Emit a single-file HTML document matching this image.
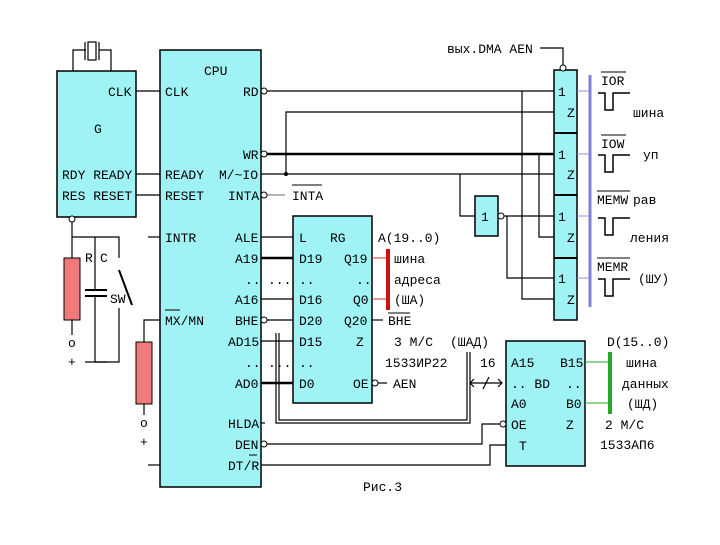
<!DOCTYPE html>
<html><head><meta charset="utf-8"><style>
html,body{margin:0;padding:0;background:#fff;}
svg text{font-family:"Liberation Mono","DejaVu Sans Mono",monospace;font-size:13px;fill:#000;}
</style></head><body>
<svg width="720" height="540" viewBox="0 0 720 540" xmlns="http://www.w3.org/2000/svg">
<g stroke="#000" stroke-width="1.2" fill="none">
<!-- crystal -->
<polyline points="73,71 73,50 86,50"/><polyline points="111,71 111,50 99,50"/>
<rect x="88" y="42" width="8" height="18" fill="#fff"/><line x1="85" y1="42" x2="85" y2="60"/><line x1="99" y1="42" x2="99" y2="60"/>
</g>
<!-- blocks -->
<g fill="#9ff3f5" stroke="#000" stroke-width="1.5">
<rect x="57" y="71" width="79" height="146"/>
<rect x="160" y="50" width="101" height="437"/>
<rect x="293" y="216" width="79" height="187"/>
<rect x="506" y="341" width="79" height="125"/>
<rect x="475" y="196" width="23" height="40"/>
<rect x="554" y="70" width="23" height="250"/>
</g>
<g stroke="#000" stroke-width="2"><line x1="554" y1="133" x2="577" y2="133"/><line x1="554" y1="195" x2="577" y2="195"/><line x1="554" y1="258" x2="577" y2="258"/></g>
<!-- left resistors -->
<g fill="#f07a7a" stroke="#000" stroke-width="1">
<rect x="64" y="258" width="16" height="62"/>
<rect x="136" y="342" width="16" height="62"/>
</g>
<g stroke="#000" stroke-width="1.2" fill="none">
<line x1="136" y1="91" x2="160" y2="91"/>
<line x1="136" y1="174" x2="160" y2="174"/>
<line x1="136" y1="195" x2="160" y2="195"/>
<line x1="72" y1="222" x2="72" y2="258"/>
<line x1="72" y1="320" x2="72" y2="335"/>
<polyline points="72,237 119,237 119,258"/>
<line x1="95" y1="237" x2="95" y2="290"/>
<line x1="85" y1="290" x2="107" y2="290" stroke-width="2"/><line x1="85" y1="296" x2="107" y2="296" stroke-width="2"/>
<polyline points="95,296 95,362 119,362 119,308"/>
<line x1="119" y1="270" x2="132" y2="305" stroke-width="2"/>
<line x1="85" y1="362" x2="107" y2="362"/>
<line x1="148" y1="237" x2="160" y2="237"/>
<polyline points="160,320 144,320 144,342"/>
<line x1="144" y1="404" x2="144" y2="415"/>
<line x1="148" y1="465" x2="160" y2="465"/>
<!-- CPU right -->
<line x1="266" y1="91" x2="554" y2="91"/>
<polyline points="554,112 286,112 286,174"/>
<line x1="266" y1="154" x2="554" y2="154" stroke-width="2.5"/>
<line x1="261" y1="174" x2="554" y2="174"/>
<line x1="266" y1="195" x2="285" y2="195" stroke="#888"/>
<polyline points="460,174 460,216 475,216"/>
<line x1="503" y1="216" x2="554" y2="216"/>
<polyline points="507,216 507,278 554,278"/>
<polyline points="539,154 539,237 554,237"/>
<polyline points="522,91 522,299 554,299"/>
<polyline points="540,48 563,48 563,66"/>
<line x1="261" y1="237" x2="293" y2="237"/>
<line x1="261" y1="258" x2="293" y2="258" stroke-width="2.5"/>
<line x1="261" y1="299" x2="293" y2="299"/>
<line x1="266" y1="320" x2="293" y2="320"/>
<line x1="261" y1="341" x2="293" y2="341"/>
<line x1="261" y1="383" x2="293" y2="383" stroke-width="2.5"/>
<line x1="261" y1="423" x2="265" y2="423"/>
<polyline points="276,333 276,423 470,423 470,352"/>
<polyline points="279,333 279,420 467,420 467,352"/>
<polyline points="266,444 482,444 482,424 502,424"/>
<polyline points="261,465 490,465 490,445 506,445"/>
<line x1="372" y1="320" x2="383" y2="320"/>
<line x1="377" y1="383" x2="387" y2="383"/>
<line x1="470" y1="383" x2="502" y2="383"/>
<polyline points="474,379 470,383 474,387"/><polyline points="498,379 502,383 498,387"/>
<line x1="483" y1="389" x2="489" y2="377"/>
<!-- waveforms -->
<g stroke-width="1.5">
<polyline points="598,93 605,93 605,110 613,110 613,93 630,93"/>
<polyline points="598,155 605,155 605,172 613,172 613,155 630,155"/>
<polyline points="598,218 605,218 605,235 613,235 613,218 630,218"/>
<polyline points="598,279 605,279 605,296 613,296 613,279 630,279"/>
</g>
</g>
<g stroke="#9090d8" stroke-width="1"><line x1="577" y1="91" x2="590" y2="91"/><line x1="577" y1="154" x2="590" y2="154"/><line x1="577" y1="216" x2="590" y2="216"/><line x1="577" y1="278" x2="590" y2="278"/></g>
<line x1="590" y1="75" x2="590" y2="307" stroke="#8080d8" stroke-width="3"/>
<g stroke="#c03030" stroke-width="1"><line x1="372" y1="258" x2="388" y2="258"/><line x1="372" y1="299" x2="388" y2="299"/></g>
<line x1="388" y1="249" x2="388" y2="310" stroke="#cc1111" stroke-width="4"/>
<g stroke="#22aa22" stroke-width="1"><line x1="585" y1="362" x2="610" y2="362"/><line x1="585" y1="403" x2="610" y2="403"/></g>
<line x1="610" y1="352" x2="610" y2="414" stroke="#22aa22" stroke-width="4"/>
<!-- bubbles -->
<g fill="#fff" stroke="#000" stroke-width="1">
<circle cx="72" cy="219" r="3"/><circle cx="264" cy="91" r="3"/><circle cx="264" cy="154" r="3"/><circle cx="264" cy="195" r="3"/>
<circle cx="264" cy="320" r="3"/><circle cx="264" cy="444" r="3"/><circle cx="501" cy="216" r="3"/><circle cx="563" cy="68" r="3"/>
<circle cx="375" cy="383" r="3"/><circle cx="503" cy="424" r="3"/>
</g>
<circle cx="286" cy="174" r="2" fill="#000"/>
<text x="108" y="96">CLK</text><text x="94" y="133">G</text><text x="62" y="179">RDY READY</text><text x="62" y="200">RES RESET</text>
<text x="85" y="262">R</text><text x="100" y="262">C</text><text x="110" y="303">SW</text><text x="68" y="347">o</text><text x="68" y="366">+</text>
<text x="140" y="427">o</text><text x="140" y="446">+</text>
<text x="204" y="75">CPU</text><text x="165" y="96">CLK</text><text x="243" y="96">RD</text>
<text x="243" y="159">WR</text><text x="165" y="179">READY</text><text x="219" y="179">M/~IO</text>
<text x="165" y="200">RESET</text><text x="228" y="200">INTA</text><text x="292" y="200">INTA</text><line x1="292" y1="185" x2="322" y2="185" stroke="#000"/>
<text x="165" y="242">INTR</text><text x="235" y="242">ALE</text><text x="235" y="263">A19</text><text x="245" y="284">..</text><text x="268" y="284">...</text>
<text x="235" y="304">A16</text><text x="165" y="325">MX/MN</text><line x1="165" y1="310" x2="180" y2="310" stroke="#000"/>
<text x="235" y="325">BHE</text><text x="228" y="346">AD15</text><text x="245" y="367">..</text><text x="268" y="367">...</text>
<text x="235" y="388">AD0</text><text x="228" y="428">HLDA</text><text x="235" y="449">DEN</text><text x="228" y="470">DT/R</text><line x1="249" y1="455" x2="257" y2="455" stroke="#000"/>
<text x="299" y="242">L</text><text x="330" y="242">RG</text><text x="299" y="263">D19</text><text x="344" y="263">Q19</text>
<text x="299" y="284">..</text><text x="356" y="284">..</text><text x="299" y="304">D16</text><text x="353" y="304">Q0</text>
<text x="299" y="325">D20</text><text x="344" y="325">Q20</text><text x="299" y="346">D15</text><text x="356" y="346">Z</text>
<text x="299" y="367">..</text><text x="299" y="388">D0</text><text x="353" y="388">OE</text>
<text x="378" y="242">A(19..0)</text><text x="394" y="263">шина</text><text x="394" y="284">адреса</text><text x="394" y="304">(ША)</text>
<text x="388" y="325">BHE</text><line x1="388" y1="313" x2="410" y2="313" stroke="#000"/>
<text x="394" y="346">3 М/С</text><text x="450" y="346">(ШАД)</text><text x="385" y="367">1533ИР22</text><text x="393" y="388">AEN</text>
<text x="480" y="367">16</text>
<text x="511" y="367">A15</text><text x="560" y="367">B15</text><text x="511" y="388">.. BD</text><text x="566" y="388">..</text>
<text x="511" y="408">A0</text><text x="566" y="408">B0</text><text x="511" y="429">OE</text><text x="566" y="429">Z</text><text x="519" y="450">T</text>
<text x="607" y="346">D(15..0)</text><text x="626" y="367">шина</text><text x="622" y="388">данных</text><text x="627" y="408">(ШД)</text>
<text x="605" y="429">2 М/С</text><text x="600" y="449">1533АП6</text>
<text x="447" y="53">вых.DMA AEN</text>
<text x="558" y="96">1</text><text x="567" y="117">Z</text><text x="558" y="159">1</text><text x="567" y="179">Z</text>
<text x="558" y="221">1</text><text x="567" y="242">Z</text><text x="558" y="283">1</text><text x="567" y="304">Z</text>
<text x="481" y="221">1</text>
<text x="601" y="85">IOR</text><line x1="601" y1="72" x2="626" y2="72" stroke="#000"/>
<text x="601" y="148">IOW</text><line x1="601" y1="135" x2="626" y2="135" stroke="#000"/>
<text x="597" y="204">MEMW</text><line x1="597" y1="191" x2="630" y2="191" stroke="#000"/>
<text x="597" y="271">MEMR</text><line x1="597" y1="258" x2="630" y2="258" stroke="#000"/>
<text x="633" y="117">шина</text><text x="643" y="159">уп</text><text x="633" y="204">рав</text><text x="630" y="242">ления</text><text x="638" y="283">(ШУ)</text>
<text x="363" y="491">Рис.3</text>
</svg>
</body></html>
